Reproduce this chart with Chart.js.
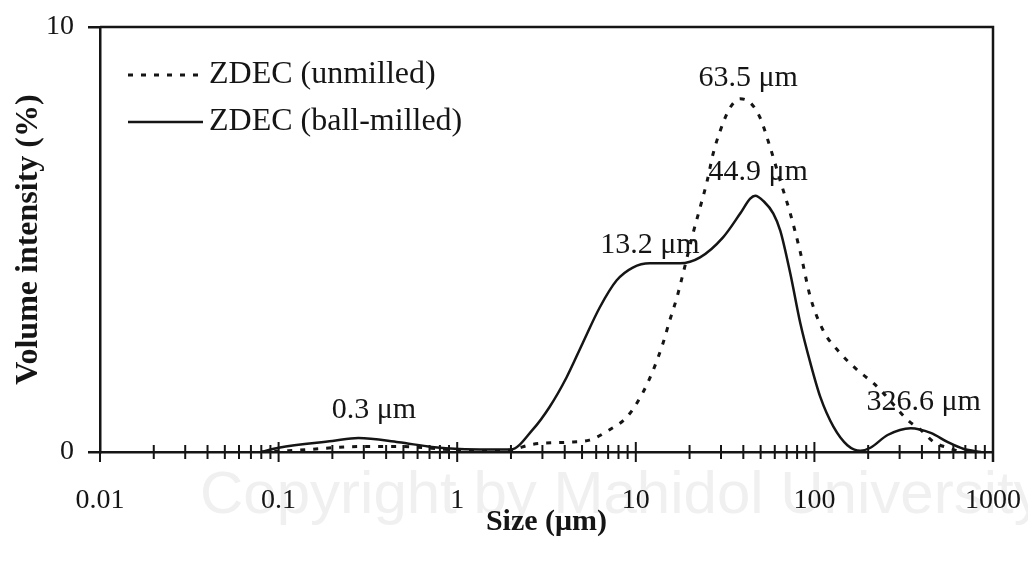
<!DOCTYPE html>
<html>
<head>
<meta charset="utf-8">
<script src="https://cdn.jsdelivr.net/npm/chart.js@4.4.0/dist/chart.umd.min.js"></script>
<style>
html,body{margin:0;padding:0;background:#fff;}
#wrap{width:1028px;height:566px;}
</style>
</head>
<body>
<div id="wrap"><canvas id="c" width="1028" height="566"></canvas></div>
<script>
// ---- data ----
const seriesNames = ['ZDEC (unmilled)', 'ZDEC (ball-milled)'];

const unmilledSize = [0.08, 0.1, 0.15, 0.2, 0.3, 0.47, 0.72, 1.0, 1.5, 2.0, 2.64, 4.1, 5.5, 7.1, 8.9, 10.9, 12.5, 14.2, 15.5, 17.0, 18.4, 20.9, 22.9, 25.1, 27.1, 29.7, 33.7, 38.4, 43.7, 49.7, 56.6, 64.4, 73.3, 83.4, 95, 112, 140, 175, 214, 244, 333, 394, 467, 559, 661];
const unmilledVol  = [0.0, 0.02, 0.06, 0.10, 0.13, 0.13, 0.09, 0.04, 0.02, 0.05, 0.18, 0.23, 0.28, 0.52, 0.82, 1.38, 1.92, 2.56, 3.10, 3.64, 4.20, 5.14, 5.75, 6.38, 7.02, 7.56, 8.10, 8.31, 8.22, 7.86, 7.16, 6.38, 5.61, 4.70, 3.64, 2.86, 2.32, 1.92, 1.62, 1.38, 0.75, 0.52, 0.23, 0.10, 0.0];

const milledSize = [0.08, 0.1, 0.2, 0.28, 0.47, 0.72, 1.03, 1.5, 2.0, 2.64, 3.29, 4.1, 5.04, 6.28, 7.82, 9.62, 12.0, 17.7, 22.9, 30.8, 38.4, 43.7, 46.6, 52, 58.9, 64.4, 73.3, 83.4, 95, 108, 128, 153, 181, 206, 257, 346, 448, 559, 687, 857];
const milledVol  = [0.0, 0.10, 0.26, 0.33, 0.23, 0.12, 0.07, 0.06, 0.06, 0.52, 1.06, 1.76, 2.56, 3.40, 4.04, 4.34, 4.44, 4.44, 4.58, 5.05, 5.61, 5.96, 6.03, 5.90, 5.61, 5.21, 4.20, 3.03, 2.09, 1.29, 0.59, 0.16, 0.03, 0.10, 0.40, 0.56, 0.45, 0.23, 0.07, 0.0];

const xTickValues = [0.01, 0.1, 1, 10, 100, 1000];
const yTickValues = [0, 10];

const peakText = ['63.5 μm', '44.9 μm', '13.2 μm', '0.3 μm', '326.6 μm'];
const peakAtSize = [42.6, 48.4, 12.0, 0.342, 409];
const peakAtVol  = [8.80, 6.59, 4.86, 0.99, 1.17];

const xTitle = 'Size (μm)';
const yTitle = 'Volume intensity (%)';
const watermark = 'Copyright by Mahidol University';

// ---- drawing ----
const SERIF = "'Liberation Serif', 'Times New Roman', Times, serif";
const INK = '#151515';

function pairs(xs, ys) { return xs.map((v, i) => ({x: v, y: ys[i]})); }

const extras = {
  id: 'extras',
  beforeDraw(chart) {
    const ctx = chart.ctx;
    ctx.save();
    ctx.fillStyle = '#f0f0f0';
    ctx.font = "60px 'Liberation Sans', Arial, sans-serif";
    ctx.textBaseline = 'alphabetic';
    ctx.textAlign = 'left';
    ctx.fillText(watermark, 200, 513);
    ctx.restore();
  },
  afterDraw(chart) {
    const {ctx, chartArea: a, scales: {x, y}} = chart;
    ctx.save();
    ctx.strokeStyle = INK;
    ctx.lineWidth = 2.5;
    ctx.beginPath();
    ctx.moveTo(a.left, a.top);
    ctx.lineTo(a.right, a.top);
    ctx.lineTo(a.right, a.bottom + 10);
    ctx.stroke();

    // x-axis tick marks crossing the zero line
    const y0 = y.getPixelForValue(0);
    ctx.lineWidth = 2;
    for (let i = 0; i < xTickValues.length; i++) {
      const d = xTickValues[i];
      const px = x.getPixelForValue(d);
      ctx.beginPath();
      ctx.moveTo(px, y0 - (i === 0 ? 0 : 10));
      ctx.lineTo(px, y0 + 10);
      ctx.stroke();
      if (i < xTickValues.length - 1) {
        for (let k = 2; k <= 9; k++) {
          const p = x.getPixelForValue(d * k);
          ctx.beginPath();
          ctx.moveTo(p, y0 - 7);
          ctx.lineTo(p, y0 + 7);
          ctx.stroke();
        }
      }
    }

    // peak labels
    ctx.fillStyle = INK;
    ctx.font = '30px ' + SERIF;
    ctx.textAlign = 'center';
    ctx.textBaseline = 'middle';
    for (let i = 0; i < peakText.length; i++) {
      ctx.fillText(peakText[i], x.getPixelForValue(peakAtSize[i]), y.getPixelForValue(peakAtVol[i]));
    }

    // legend
    const ds = chart.data.datasets;
    const lx0 = a.left + 28, lx1 = a.left + 103;
    const rows = [75, 122];
    ctx.font = '32px ' + SERIF;
    ctx.textAlign = 'left';
    for (let i = 0; i < ds.length; i++) {
      ctx.beginPath();
      ctx.setLineDash(ds[i].borderDash || []);
      ctx.lineWidth = ds[i].borderWidth;
      ctx.strokeStyle = ds[i].borderColor;
      ctx.moveTo(lx0, rows[i]);
      ctx.lineTo(lx1, rows[i]);
      ctx.stroke();
      ctx.setLineDash([]);
      ctx.fillText(ds[i].label, lx1 + 6, rows[i]);
    }
    ctx.restore();
  }
};

new Chart(document.getElementById('c'), {
  type: 'scatter',
  data: {
    datasets: [
      {
        label: seriesNames[0],
        data: pairs(unmilledSize, unmilledVol),
        showLine: true,
        borderColor: INK,
        borderWidth: 3,
        borderDash: [5, 8],
        pointRadius: 0,
        cubicInterpolationMode: 'monotone',
        fill: false
      },
      {
        label: seriesNames[1],
        data: pairs(milledSize, milledVol),
        showLine: true,
        borderColor: INK,
        borderWidth: 2.5,
        pointRadius: 0,
        cubicInterpolationMode: 'monotone',
        fill: false
      }
    ]
  },
  options: {
    responsive: false,
    animation: false,
    devicePixelRatio: 1,
    layout: {padding: {left: 0, right: 35, top: 27, bottom: 0}},
    plugins: {legend: {display: false}, tooltip: {enabled: false}},
    scales: {
      x: {
        type: 'logarithmic',
        position: 'bottom',
        min: 0.01,
        max: 1000,
        afterFit(s) { s.height = 114; s.paddingLeft = 0; s.paddingRight = 0; },
        afterBuildTicks(s) { s.ticks = xTickValues.map(v => ({value: v, major: true})); },
        ticks: {
          callback: (v) => String(v),
          autoSkip: false,
          maxRotation: 0,
          padding: 24,
          color: INK,
          font: {family: SERIF, size: 28}
        },
        grid: {display: false},
        border: {display: true, color: INK, width: 2.5},
        title: {
          display: true,
          text: xTitle,
          color: INK,
          font: {family: SERIF, size: 30, weight: 'bold'},
          padding: {top: 0, bottom: 26}
        }
      },
      y: {
        type: 'linear',
        min: 0,
        max: 10,
        afterFit(s) { s.width = 100; s.paddingTop = 0; s.paddingBottom = 0; },
        afterBuildTicks(s) { s.ticks = yTickValues.map(v => ({value: v})); },
        ticks: {
          padding: 14,
          color: INK,
          font: {family: SERIF, size: 28}
        },
        grid: {display: true, drawOnChartArea: false, drawTicks: true, tickLength: 12, color: INK, lineWidth: 2.5},
        border: {display: true, color: INK, width: 2.5},
        title: {
          display: true,
          text: yTitle,
          color: INK,
          font: {family: SERIF, size: 32, weight: 'bold'},
          padding: {top: 10, bottom: 0}
        }
      }
    }
  },
  plugins: [extras]
});
</script>
</body>
</html>
